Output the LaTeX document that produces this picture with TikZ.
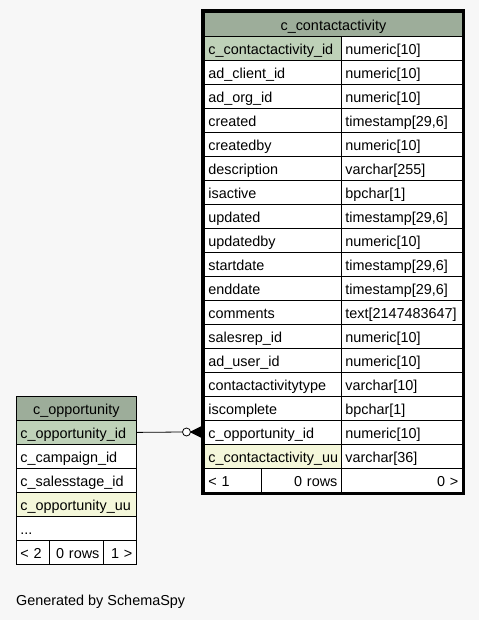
\documentclass[tikz,border=0pt]{standalone}
\usepackage{fontspec}
\setmainfont{Liberation Sans}
\definecolor{bgc}{RGB}{247,247,247}
\definecolor{hdrc}{RGB}{157,173,154}
\definecolor{pkc}{RGB}{190,209,184}
\definecolor{uuc}{RGB}{244,247,218}
\begin{document}
\begin{tikzpicture}[x=1pt,y=-1pt,
  every node/.style={font=\fontsize{14.4}{16}\selectfont},
  cellbase/.style={draw=black, line width=0.8pt, minimum height=24pt, inner xsep=4pt, inner ysep=0pt, text height=14pt, text depth=2pt, anchor=north west},
  hdr/.style={cellbase, fill=hdrc, align=center},
  pkfill/.style={fill=pkc},
  wfill/.style={fill=white},
  uufill/.style={fill=uuc},
  leftcell/.style={cellbase, align=left},
  rightcell/.style={cellbase, align=right},
  maincolA/.style={leftcell, text width=129pt},
  maincolB/.style={leftcell, text width=113pt},
  opcol/.style={leftcell, text width=112pt},
  conn/.style={draw=black, line width=0.8pt}
]
\fill[bgc] (0,0) rectangle (479,620);
\useasboundingbox (0,0) rectangle (479,620);

% main table c_contactactivity
\node[hdr, text width=250pt] (ca-h) at (204,12) {c\_contactactivity};
\foreach \i/\n/\t/\f in {
  0/c\_contactactivity\_id/numeric[10]/pkfill,
  1/ad\_client\_id/numeric[10]/wfill,
  2/ad\_org\_id/numeric[10]/wfill,
  3/created/timestamp[29{,}6]/wfill,
  4/createdby/numeric[10]/wfill,
  5/description/varchar[255]/wfill,
  6/isactive/bpchar[1]/wfill,
  7/updated/timestamp[29{,}6]/wfill,
  8/updatedby/numeric[10]/wfill,
  9/startdate/timestamp[29{,}6]/wfill,
  10/enddate/timestamp[29{,}6]/wfill,
  11/comments/text[2147483647]/wfill,
  12/salesrep\_id/numeric[10]/wfill,
  13/ad\_user\_id/numeric[10]/wfill,
  14/contactactivitytype/varchar[10]/wfill,
  15/iscomplete/bpchar[1]/wfill,
  16/c\_opportunity\_id/numeric[10]/wfill,
  17/c\_contactactivity\_uu/varchar[36]/uufill}{
  \node[maincolA, \f] (ca-n-\i) at (204,36+24*\i) {\n};
  \node[maincolB, wfill] (ca-t-\i) at (341,36+24*\i) {\t};
}
\node[leftcell, fill=white, text width=49pt] (ca-f1) at (204,468) {< 1};
\node[rightcell, fill=white, text width=72pt] (ca-f2) at (261,468) {0 rows};
\node[rightcell, fill=white, text width=113pt] (ca-f3) at (341,468) {0 >};
\draw[line width=3pt] (202.5,10.5) rectangle (463.5,493.5);

% table c_opportunity
\node[hdr, text width=112pt] (op-h) at (16,396) {c\_opportunity};
\node[opcol, pkfill] (op-n-0) at (16,420) {c\_opportunity\_id};
\node[opcol, wfill] (op-n-1) at (16,444) {c\_campaign\_id};
\node[opcol, wfill] (op-n-2) at (16,468) {c\_salesstage\_id};
\node[opcol, uufill] (op-n-3) at (16,492) {c\_opportunity\_uu};
\node[opcol, wfill] (op-n-4) at (16,516) {...};
\node[leftcell, fill=white, text width=25pt] (op-f1) at (16,540) {< 2};
\node[rightcell, fill=white, text width=46pt] (op-f2) at (49,540) {0 rows};
\node[rightcell, fill=white, text width=25pt] (op-f3) at (103,540) {1 >};

% connector
\node[circle, draw=black, line width=0.8pt, fill=white, minimum size=8pt, inner sep=0pt] (circ) at (186.5,432) {};
\coordinate (cf) at (191,432);
\coordinate (cfa) at (201,427);
\coordinate (cfb) at (201,432);
\coordinate (cfc) at (201,437);
\draw[conn] (op-n-0.east) -- (circ.west);
\draw[conn] (circ.east) -- (cf);
\fill[black] (cf) -- (cfa) -- (cfc) -- cycle;
\draw[conn, line width=1.2pt] (cf) -- (cfa) (cf) -- (cfb) (cf) -- (cfc);

\node[anchor=base west, inner sep=0pt] (gen) at (16,605) {Generated by SchemaSpy};
\end{tikzpicture}
\end{document}
